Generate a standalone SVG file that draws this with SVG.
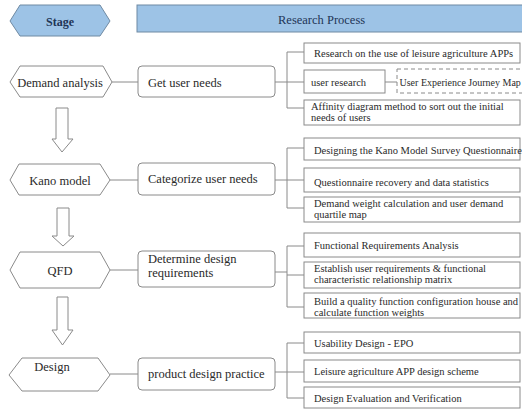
<svg xmlns="http://www.w3.org/2000/svg" width="522" height="409" viewBox="0 0 522 409">
<style>
text{font-family:"Liberation Serif","Times New Roman",serif;fill:#2a2a2a}
.hx{fill:#fff;stroke:#8a8a8a;stroke-width:1}
.bx{fill:#fff;stroke:#8a8a8a;stroke-width:1}
.rb{fill:#fff;stroke:#8a8a8a;stroke-width:1}
.ln{stroke:#8a8a8a;stroke-width:1;fill:none}
.ar{fill:#fff;stroke:#8a8a8a;stroke-width:1}
.hd{fill:#9dc3e6;stroke:#6f8aa3;stroke-width:1}
.t13{font-size:12.5px}
.t10{font-size:10.5px}
.nv{fill:#1f3556}
</style>
<g id="header-stage">
<polygon class="hd" points="10,21 20,5 100,5 110,21 100,36 20,36"/>
<text class="nv" x="60" y="25.5" text-anchor="middle" font-size="12" font-weight="bold">Stage</text>
</g>
<g id="header-process">
<rect class="hd" x="137" y="5" width="390" height="27"/>
<text class="nv t13" x="278" y="24">Research Process</text>
</g>
<g id="connectors">
<line class="ln" x1="112" y1="82" x2="138" y2="82"/>
<line class="ln" x1="110" y1="180" x2="138" y2="180"/>
<line class="ln" x1="110" y1="270" x2="138" y2="270"/>
<line class="ln" x1="110" y1="374" x2="138" y2="374"/>
<path class="ln" d="M275,82H287M287,52V108M287,52H304M287,82H304M287,108H304M385,82H397"/>
<path class="ln" d="M275,180H287M287,148V208M287,148H304M287,180H304M287,208H304"/>
<path class="ln" d="M275,272H287M287,246V307M287,246H304M287,275H304M287,307H304"/>
<path class="ln" d="M275,372H287M287,343V398M287,343H304M287,372H304M287,398H304"/>
<polygon class="ar" points="56,108 68,108 68,139 73,139 62,152 52,139 56,139"/>
<polygon class="ar" points="57,208 69,208 69,236 74,236 63,246 52,236 57,236"/>
<polygon class="ar" points="57,297 68,297 68,330 73,330 62.5,345 52,330 57,330"/>
</g>
<g id="stage-demand">
<polygon class="hx" points="10,82 20,66 103,66 112,82 103,97 20,97"/>
<text class="t13" x="60" y="87" text-anchor="middle">Demand analysis</text>
</g>
<g id="stage-kano">
<polygon class="hx" points="10,180 19,164 100,164 110,180 100,195 19,195"/>
<text class="t13" x="60" y="184.5" text-anchor="middle">Kano model</text>
</g>
<g id="stage-qfd">
<polygon class="hx" points="10,270 20,252 100,252 110,270 100,288 20,288"/>
<text class="t13" x="60" y="274.5" text-anchor="middle">QFD</text>
</g>
<g id="stage-design">
<polygon class="hx" points="9,375 22,358 98,358 110,375 98,391 22,391"/>
<text class="t13" x="52" y="371" text-anchor="middle">Design</text>
</g>
<g id="proc-get-user-needs">
<rect class="rb" x="138" y="66" width="137" height="31" rx="4"/>
<text class="t13" x="148" y="87">Get user needs</text>
</g>
<g id="proc-categorize">
<rect class="rb" x="138" y="163" width="137" height="32" rx="4"/>
<text class="t13" x="148" y="183">Categorize user needs</text>
</g>
<g id="proc-determine">
<rect class="rb" x="138" y="251" width="137" height="36" rx="4"/>
<text class="t13" x="148" y="263">Determine design</text>
<text class="t13" x="148" y="277">requirements</text>
</g>
<g id="proc-product">
<rect class="rb" x="138" y="358" width="137" height="32" rx="4"/>
<text class="t13" x="148" y="378">product design practice</text>
</g>
<g id="d1">
<rect class="bx" x="304" y="43" width="216" height="20"/>
<text class="t10" x="314" y="56.5">Research on the use of leisure agriculture APPs</text>
</g>
<g id="d2">
<rect class="bx" x="304" y="70" width="81" height="23"/>
<text class="t10" x="311" y="85.5">user research</text>
</g>
<g id="d2b">
<rect class="bx" x="397" y="69" width="135" height="24" stroke-dasharray="4,3"/>
<text x="399.5" y="85.5" font-size="10">User Experience Journey Map</text>
</g>
<g id="d3">
<rect class="bx" x="304" y="100" width="216" height="25"/>
<text class="t10" x="311" y="110">Affinity diagram method to sort out the initial</text>
<text class="t10" x="311" y="120.5">needs of users</text>
</g>
<g id="k1">
<rect class="bx" x="304" y="138" width="216" height="22"/>
<text class="t10" x="314" y="153.5">Designing the Kano Model Survey Questionnaire</text>
</g>
<g id="k2">
<rect class="bx" x="304" y="168" width="216" height="24"/>
<text class="t10" x="314" y="185.5">Questionnaire recovery and data statistics</text>
</g>
<g id="k3">
<rect class="bx" x="304" y="197" width="216" height="25"/>
<text class="t10" x="314" y="206.5">Demand weight calculation and user demand</text>
<text class="t10" x="314" y="217.5">quartile map</text>
</g>
<g id="q1">
<rect class="bx" x="304" y="233" width="216" height="24"/>
<text class="t10" x="314" y="248.5">Functional Requirements Analysis</text>
</g>
<g id="q2">
<rect class="bx" x="304" y="262" width="216" height="26"/>
<text class="t10" x="314" y="271.5">Establish user requirements &amp; functional</text>
<text class="t10" x="314" y="282.5">characteristic relationship matrix</text>
</g>
<g id="q3">
<rect class="bx" x="304" y="293" width="216" height="25"/>
<text class="t10" x="314" y="305">Build a quality function configuration house and</text>
<text class="t10" x="314" y="315.5">calculate function weights</text>
</g>
<g id="p1">
<rect class="bx" x="304" y="332" width="216" height="21"/>
<text class="t10" x="314" y="346.5">Usability Design - EPO</text>
</g>
<g id="p2">
<rect class="bx" x="304" y="360" width="216" height="22"/>
<text class="t10" x="314" y="375">Leisure agriculture APP design scheme</text>
</g>
<g id="p3">
<rect class="bx" x="304" y="387" width="216" height="21"/>
<text class="t10" x="314" y="401.5">Design Evaluation and Verification</text>
</g>
</svg>
